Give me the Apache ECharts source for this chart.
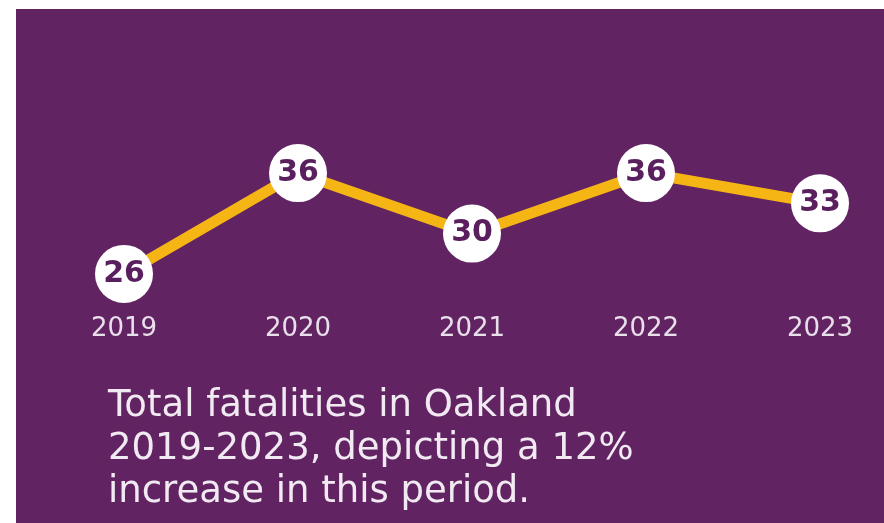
<!DOCTYPE html>
<html>
<head>
<meta charset="utf-8">
<script src="https://cdn.jsdelivr.net/npm/echarts@6/dist/echarts.min.js"></script>
<style>
  html, body { margin: 0; padding: 0; background: #ffffff; }
  #chart { position: absolute; left: 16px; top: 9px; width: 868px; height: 514px; }
</style>
</head>
<body>
<div id="chart"></div>
<script>
// data
const years = ['2019', '2020', '2021', '2022', '2023'];
const fatalities = [26, 36, 30, 36, 33];
const caption = [
    'Total fatalities in Oakland',
    '2019-2023, depicting a 12%',
    'increase in this period.'
];

const purple = '#622363';
const myChart = echarts.init(document.getElementById('chart'));

myChart.setOption({
    backgroundColor: purple,
    animation: false,
    title: {
        text: caption.join('\n'),
        left: 92,
        top: 376,
        padding: 0,
        textStyle: {
            color: '#f1eaf2',
            fontFamily: 'DejaVu Sans',
            fontWeight: 'normal',
            fontSize: 37,
            lineHeight: 43
        }
    },
    grid: {
        left: 108,
        right: 64,
        top: 154,
        bottom: 239
    },
    xAxis: {
        type: 'category',
        data: years,
        boundaryGap: false,
        axisLine: { show: false },
        axisTick: { show: false },
        axisLabel: {
            margin: 32,
            color: '#e9dfeb',
            fontFamily: 'DejaVu Sans',
            fontSize: 26
        }
    },
    yAxis: {
        type: 'value',
        min: 25,
        max: 37,
        show: false,
        splitLine: { show: false }
    },
    series: [{
        type: 'line',
        data: fatalities,
        symbol: 'circle',
        symbolSize: 58,
        lineStyle: { color: '#f5b514', width: 11 },
        itemStyle: { color: '#ffffff', borderWidth: 0 },
        label: {
            show: true,
            position: 'inside',
            color: '#5a1f5e',
            fontFamily: 'DejaVu Sans',
            fontWeight: 'bold',
            fontSize: 30
        }
    }]
});
</script>
</body>
</html>
